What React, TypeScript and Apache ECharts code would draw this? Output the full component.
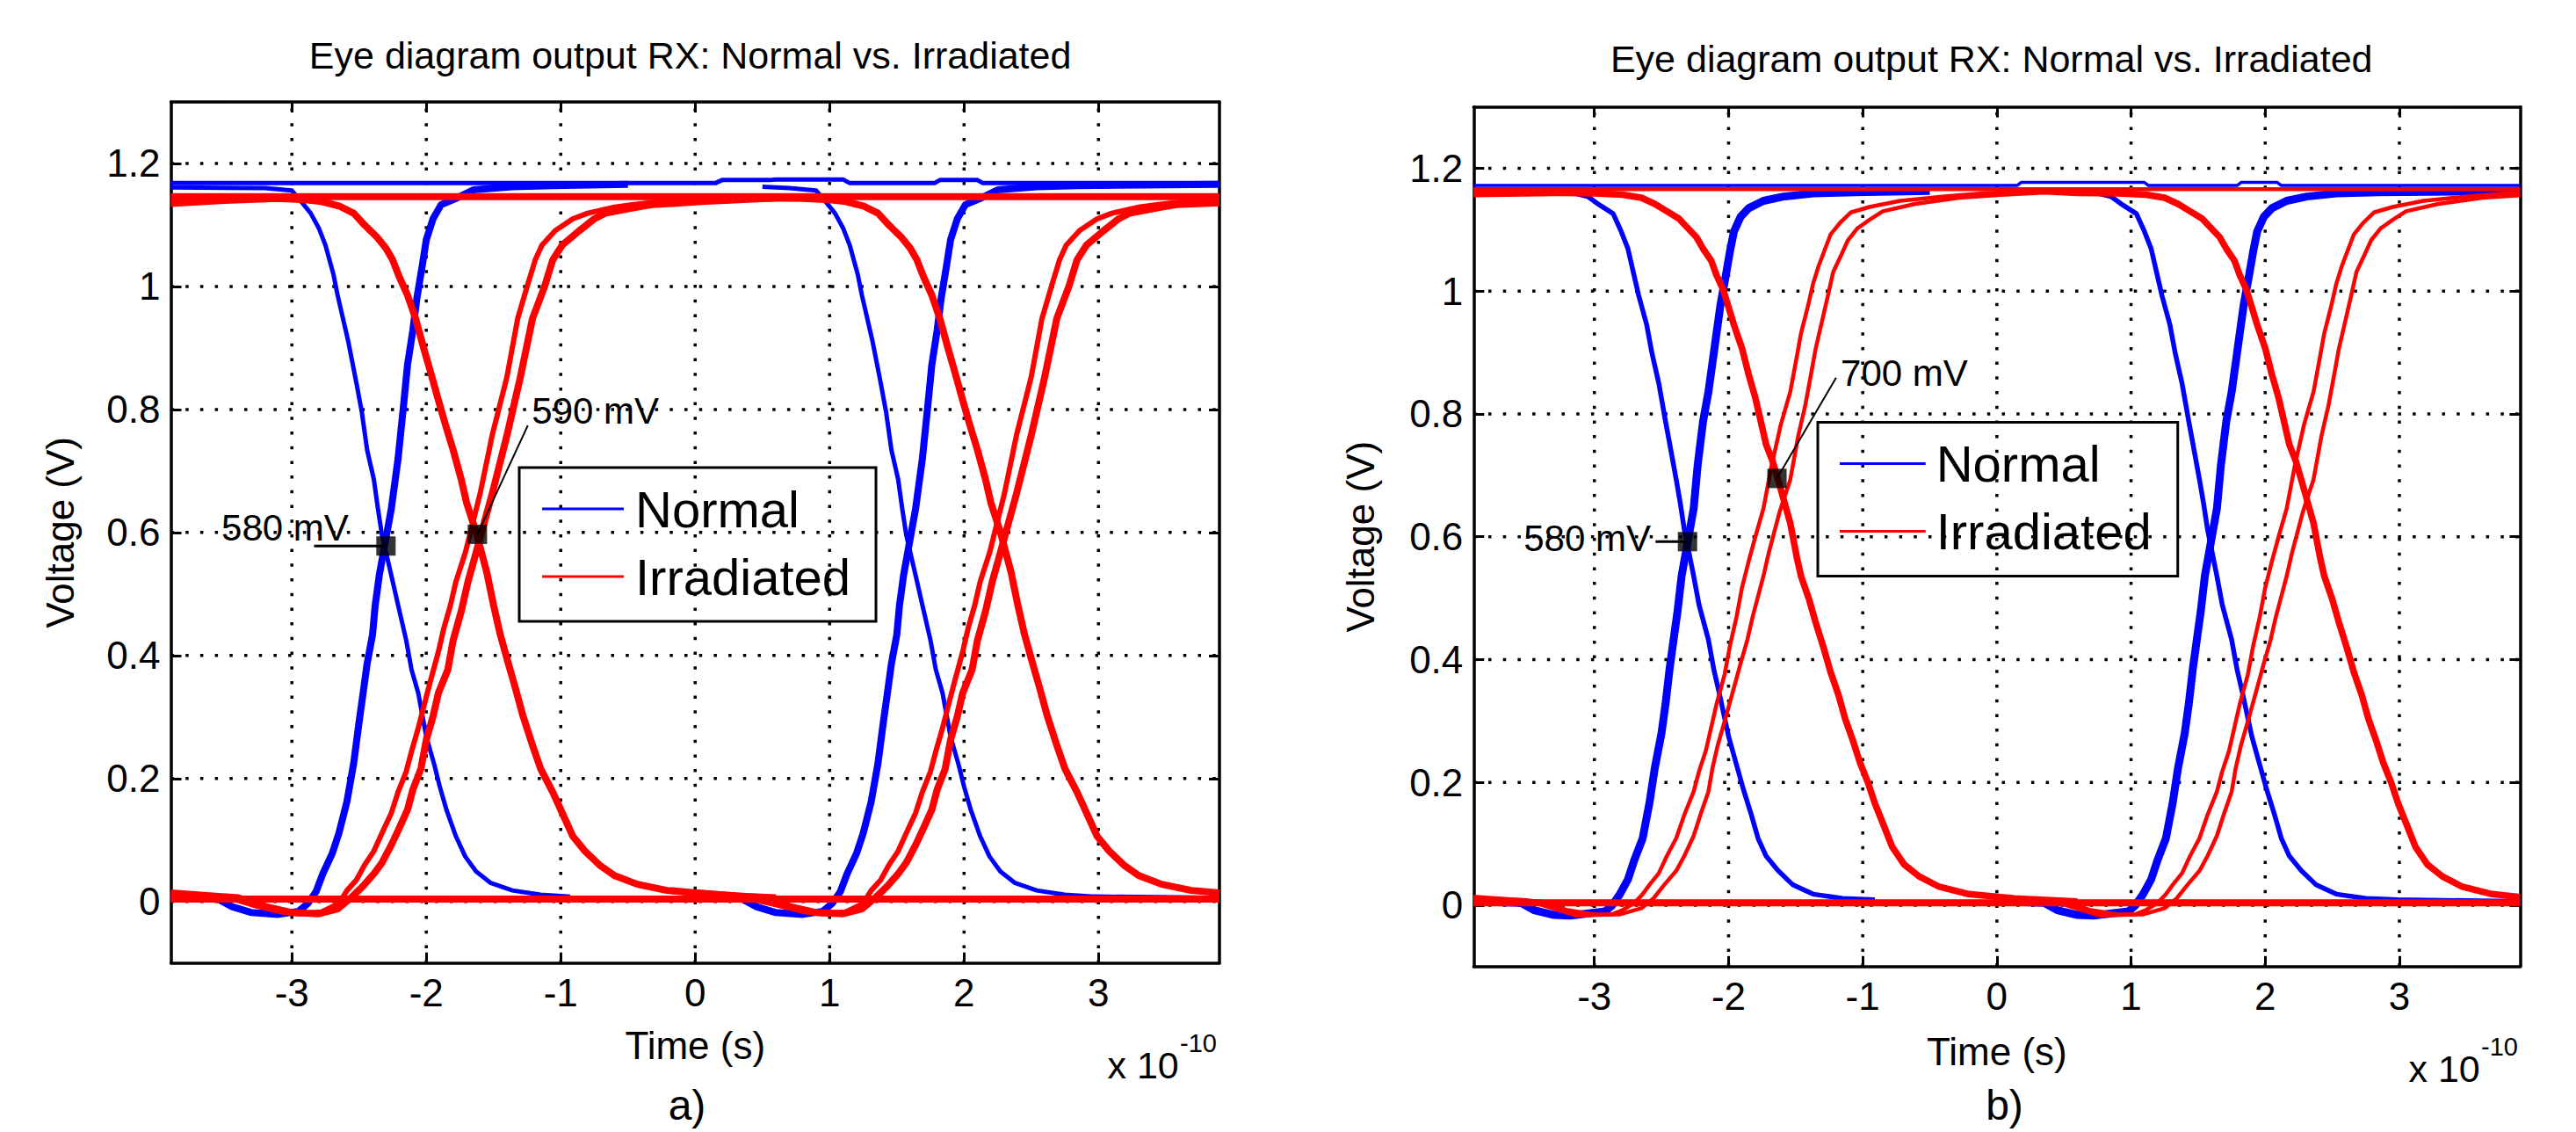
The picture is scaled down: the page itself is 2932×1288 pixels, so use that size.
import React, { useEffect, useRef } from 'react';
import * as echarts from 'echarts';

// ---------------- axes / texts ----------------
const xTicks = [-3, -2, -1, 0, 1, 2, 3];
const yTicks = [0, 0.2, 0.4, 0.6, 0.8, 1, 1.2];
const xMin = -3.9;
const xMax = 3.9;
const yMin = -0.1;
const yMax = 1.3;
const titleText = 'Eye diagram output RX: Normal vs. Irradiated';
const xName = 'Time (s)';
const yName = 'Voltage (V)';
const legendNames = ['Normal', 'Irradiated'];
const scaleMain = 'x 10';
const scaleSup = '-10';

// ---------------- panel a : Normal (blue) ----------------
const aNormalHigh = [[-3.9, 1.168], [0.15, 1.168], [0.2, 1.173], [0.55, 1.173], [0.6, 1.174], [1.1, 1.174], [1.15, 1.168], [1.78, 1.168], [1.82, 1.173], [2.1, 1.173], [2.14, 1.168], [3.9, 1.168]];
const aNormalLow = [[-3.9, 0.006], [3.9, 0.006]];
const aNormalFall1 = [[-3.9, 1.161], [-3.2, 1.160], [-3.0, 1.156], [-2.93, 1.138], [-2.86, 1.119], [-2.80, 1.095], [-2.75, 1.067], [-2.69, 1.019], [-2.66, 0.986], [-2.58, 0.910], [-2.52, 0.843], [-2.48, 0.796], [-2.44, 0.734], [-2.39, 0.686], [-2.36, 0.639], [-2.33, 0.596], [-2.26, 0.530], [-2.21, 0.482], [-2.15, 0.425], [-2.11, 0.377], [-2.06, 0.339], [-2.00, 0.268], [-1.94, 0.222], [-1.90, 0.187], [-1.85, 0.149], [-1.78, 0.106], [-1.71, 0.073], [-1.63, 0.049], [-1.52, 0.030], [-1.36, 0.018], [-1.15, 0.011], [-0.93, 0.008]];
const aNormalRise1 = [[-3.9, 0.006], [-3.55, 0.004], [-3.45, -0.008], [-3.3, -0.018], [-3.1, -0.021], [-2.95, -0.016], [-2.88, -0.003], [-2.82, 0.016], [-2.77, 0.045], [-2.70, 0.078], [-2.65, 0.111], [-2.59, 0.163], [-2.54, 0.225], [-2.50, 0.292], [-2.47, 0.339], [-2.44, 0.387], [-2.40, 0.434], [-2.38, 0.482], [-2.35, 0.530], [-2.26, 0.639], [-2.21, 0.720], [-2.17, 0.805], [-2.14, 0.872], [-2.10, 0.929], [-2.07, 0.981], [-2.03, 1.034], [-2.00, 1.076], [-1.95, 1.110], [-1.89, 1.133], [-1.78, 1.143], [-1.65, 1.157], [-1.36, 1.162], [-1.06, 1.164], [-0.5, 1.166]];
const aNormalFall2 = [[0.5, 1.162], [0.7, 1.160], [0.9, 1.156], [0.97, 1.138], [1.04, 1.119], [1.10, 1.095], [1.15, 1.067], [1.21, 1.019], [1.24, 0.986], [1.32, 0.910], [1.38, 0.843], [1.42, 0.796], [1.46, 0.734], [1.51, 0.686], [1.54, 0.639], [1.57, 0.596], [1.64, 0.530], [1.69, 0.482], [1.75, 0.425], [1.79, 0.377], [1.84, 0.339], [1.90, 0.268], [1.96, 0.222], [2.00, 0.187], [2.05, 0.149], [2.12, 0.106], [2.19, 0.073], [2.27, 0.049], [2.38, 0.030], [2.54, 0.018], [2.75, 0.011], [2.97, 0.008], [3.9, 0.006]];
const aNormalRise2 = [[0, 0.006], [0.35, 0.004], [0.45, -0.008], [0.6, -0.018], [0.8, -0.021], [0.95, -0.016], [1.02, -0.003], [1.08, 0.016], [1.13, 0.045], [1.20, 0.078], [1.25, 0.111], [1.31, 0.163], [1.36, 0.225], [1.40, 0.292], [1.43, 0.339], [1.46, 0.387], [1.50, 0.434], [1.52, 0.482], [1.55, 0.530], [1.64, 0.639], [1.69, 0.720], [1.73, 0.805], [1.76, 0.872], [1.80, 0.929], [1.83, 0.981], [1.87, 1.034], [1.90, 1.076], [1.95, 1.110], [2.01, 1.133], [2.12, 1.143], [2.25, 1.157], [2.54, 1.162], [2.84, 1.164], [3.9, 1.166]];

// ---------------- panel a : Irradiated (red) ----------------
const aIrrHigh = [[-3.9, 1.146], [3.9, 1.146]];
const aIrrLow = [[-3.9, 0.004], [3.9, 0.004]];
const aIrrFall1 = [[-3.9, 1.135], [-3.5, 1.140], [-3.1, 1.143], [-2.9, 1.141], [-2.78, 1.138], [-2.65, 1.131], [-2.54, 1.119], [-2.46, 1.100], [-2.37, 1.081], [-2.30, 1.062], [-2.25, 1.043], [-2.20, 1.015], [-2.14, 0.986], [-2.08, 0.948], [-2.02, 0.900], [-1.97, 0.862], [-1.91, 0.815], [-1.86, 0.777], [-1.80, 0.734], [-1.74, 0.686], [-1.70, 0.648], [-1.63, 0.601], [-1.55, 0.535], [-1.50, 0.482], [-1.45, 0.434], [-1.39, 0.387], [-1.34, 0.349], [-1.28, 0.301], [-1.21, 0.254], [-1.15, 0.216], [-1.06, 0.178], [-0.97, 0.135], [-0.91, 0.106], [-0.82, 0.082], [-0.71, 0.059], [-0.60, 0.042], [-0.43, 0.028], [-0.21, 0.018], [0.01, 0.014], [0.3, 0.009], [0.6, 0.006]];
const aIrrRise1L = [[-3.9, 0.012], [-3.5, 0.008], [-3.3, -0.005], [-3.1, -0.016], [-2.95, -0.020], [-2.78, -0.017], [-2.65, -0.003], [-2.59, 0.018], [-2.52, 0.035], [-2.46, 0.059], [-2.39, 0.082], [-2.33, 0.111], [-2.26, 0.144], [-2.21, 0.178], [-2.15, 0.211], [-2.11, 0.244], [-2.06, 0.282], [-2.02, 0.316], [-1.97, 0.358], [-1.91, 0.406], [-1.87, 0.444], [-1.82, 0.482], [-1.78, 0.520], [-1.71, 0.567], [-1.60, 0.663], [-1.51, 0.758], [-1.40, 0.853], [-1.32, 0.948], [-1.25, 1.000], [-1.19, 1.043], [-1.14, 1.067], [-1.04, 1.091], [-0.91, 1.110], [-0.80, 1.119], [-0.60, 1.129], [-0.47, 1.133], [-0.27, 1.138], [0.3, 1.144]];
const aIrrRise1R = [[-3.9, 0.014], [-3.4, 0.006], [-3.2, -0.008], [-3.0, -0.018], [-2.8, -0.020], [-2.66, -0.012], [-2.56, 0.006], [-2.47, 0.025], [-2.39, 0.045], [-2.33, 0.063], [-2.26, 0.092], [-2.20, 0.120], [-2.14, 0.149], [-2.10, 0.182], [-2.04, 0.216], [-2.00, 0.263], [-1.95, 0.301], [-1.91, 0.339], [-1.84, 0.377], [-1.80, 0.425], [-1.74, 0.472], [-1.69, 0.520], [-1.63, 0.567], [-1.51, 0.663], [-1.40, 0.758], [-1.30, 0.853], [-1.21, 0.948], [-1.12, 1.000], [-1.06, 1.043], [-0.99, 1.067], [-0.86, 1.091], [-0.75, 1.110], [-0.67, 1.119], [-0.43, 1.129], [-0.32, 1.133], [0.05, 1.138], [0.6, 1.144]];
const aIrrFall2 = [[0, 1.142], [0.5, 1.144], [0.8, 1.143], [1.0, 1.141], [1.12, 1.138], [1.25, 1.131], [1.36, 1.119], [1.44, 1.100], [1.53, 1.081], [1.60, 1.062], [1.65, 1.043], [1.70, 1.015], [1.76, 0.986], [1.82, 0.948], [1.88, 0.900], [1.93, 0.862], [1.99, 0.815], [2.04, 0.777], [2.10, 0.734], [2.16, 0.686], [2.20, 0.648], [2.27, 0.601], [2.35, 0.535], [2.40, 0.482], [2.45, 0.434], [2.51, 0.387], [2.56, 0.349], [2.62, 0.301], [2.69, 0.254], [2.75, 0.216], [2.84, 0.178], [2.93, 0.135], [2.99, 0.106], [3.08, 0.082], [3.19, 0.059], [3.30, 0.042], [3.47, 0.028], [3.69, 0.018], [3.9, 0.014]];
const aIrrRise2L = [[0, 0.014], [0.3, 0.010], [0.6, -0.005], [0.8, -0.016], [0.95, -0.020], [1.12, -0.017], [1.25, -0.003], [1.31, 0.018], [1.38, 0.035], [1.44, 0.059], [1.51, 0.082], [1.57, 0.111], [1.64, 0.144], [1.69, 0.178], [1.75, 0.211], [1.79, 0.244], [1.84, 0.282], [1.88, 0.316], [1.93, 0.358], [1.99, 0.406], [2.03, 0.444], [2.08, 0.482], [2.12, 0.520], [2.19, 0.567], [2.30, 0.663], [2.39, 0.758], [2.50, 0.853], [2.58, 0.948], [2.65, 1.000], [2.71, 1.043], [2.76, 1.067], [2.86, 1.091], [2.99, 1.110], [3.10, 1.119], [3.30, 1.129], [3.43, 1.133], [3.63, 1.138], [3.9, 1.140]];
const aIrrRise2R = [[0, 0.014], [0.5, 0.006], [0.7, -0.008], [0.9, -0.018], [1.1, -0.020], [1.24, -0.012], [1.34, 0.006], [1.43, 0.025], [1.51, 0.045], [1.57, 0.063], [1.64, 0.092], [1.70, 0.120], [1.76, 0.149], [1.80, 0.182], [1.86, 0.216], [1.90, 0.263], [1.95, 0.301], [1.99, 0.339], [2.06, 0.377], [2.10, 0.425], [2.16, 0.472], [2.21, 0.520], [2.27, 0.567], [2.39, 0.663], [2.50, 0.758], [2.60, 0.853], [2.69, 0.948], [2.78, 1.000], [2.84, 1.043], [2.91, 1.067], [3.04, 1.091], [3.15, 1.110], [3.23, 1.119], [3.47, 1.129], [3.58, 1.133], [3.9, 1.136]];

// ---------------- panel a : annotations ----------------
const aMarkers = [[-2.30, 0.578], [-1.62, 0.597]];
const aMarkerLabels = ['580 mV', '590 mV'];
const aLeaders = [[[-2.835, 0.578], [-2.30, 0.578]], [[-1.62, 0.597], [-1.245, 0.774]]];

// ---------------- panel b : Normal (blue) ----------------
const bNormalHigh = [[-3.9, 1.172], [0.15, 1.172], [0.18, 1.177], [0.53, 1.177], [0.59, 1.177], [1.1, 1.177], [1.13, 1.172], [1.79, 1.172], [1.82, 1.177], [2.09, 1.177], [2.12, 1.172], [3.9, 1.172]];
const bNormalLow = [[-3.9, 0.006], [3.9, 0.006]];
const bNormalFall1 = [[-3.9, 1.165], [-3.3, 1.163], [-3.18, 1.161], [-3.05, 1.154], [-2.96, 1.140], [-2.86, 1.126], [-2.80, 1.097], [-2.75, 1.069], [-2.71, 1.031], [-2.67, 0.993], [-2.61, 0.945], [-2.57, 0.898], [-2.52, 0.850], [-2.47, 0.788], [-2.43, 0.741], [-2.39, 0.693], [-2.36, 0.655], [-2.33, 0.612], [-2.26, 0.536], [-2.22, 0.489], [-2.15, 0.432], [-2.11, 0.384], [-2.07, 0.346], [-2.00, 0.275], [-1.94, 0.228], [-1.89, 0.189], [-1.83, 0.147], [-1.78, 0.109], [-1.72, 0.080], [-1.63, 0.056], [-1.52, 0.033], [-1.37, 0.018], [-1.15, 0.011], [-0.91, 0.009]];
const bNormalRise1 = [[-3.9, 0.006], [-3.55, 0.004], [-3.45, -0.008], [-3.3, -0.016], [-3.18, -0.017], [-2.92, -0.010], [-2.87, -0.001], [-2.81, 0.018], [-2.75, 0.042], [-2.70, 0.075], [-2.64, 0.109], [-2.59, 0.166], [-2.55, 0.223], [-2.50, 0.280], [-2.47, 0.327], [-2.44, 0.384], [-2.41, 0.432], [-2.38, 0.479], [-2.35, 0.536], [-2.26, 0.646], [-2.23, 0.717], [-2.19, 0.788], [-2.15, 0.836], [-2.12, 0.883], [-2.09, 0.931], [-2.06, 0.978], [-2.02, 1.026], [-1.99, 1.064], [-1.96, 1.097], [-1.91, 1.121], [-1.85, 1.135], [-1.74, 1.147], [-1.59, 1.154], [-1.37, 1.159], [-1.06, 1.161], [-0.5, 1.163]];
const bNormalFall2 = [[0.5, 1.165], [0.6, 1.163], [0.72, 1.161], [0.85, 1.154], [0.94, 1.140], [1.04, 1.126], [1.10, 1.097], [1.15, 1.069], [1.19, 1.031], [1.23, 0.993], [1.29, 0.945], [1.33, 0.898], [1.38, 0.850], [1.43, 0.788], [1.47, 0.741], [1.51, 0.693], [1.54, 0.655], [1.57, 0.612], [1.64, 0.536], [1.68, 0.489], [1.75, 0.432], [1.79, 0.384], [1.83, 0.346], [1.90, 0.275], [1.96, 0.228], [2.01, 0.189], [2.07, 0.147], [2.12, 0.109], [2.18, 0.080], [2.27, 0.056], [2.38, 0.033], [2.53, 0.018], [2.75, 0.011], [2.99, 0.009], [3.9, 0.006]];
const bNormalRise2 = [[0, 0.006], [0.35, 0.004], [0.45, -0.008], [0.6, -0.016], [0.72, -0.017], [0.98, -0.010], [1.03, -0.001], [1.09, 0.018], [1.15, 0.042], [1.20, 0.075], [1.26, 0.109], [1.31, 0.166], [1.35, 0.223], [1.40, 0.280], [1.43, 0.327], [1.46, 0.384], [1.49, 0.432], [1.52, 0.479], [1.55, 0.536], [1.64, 0.646], [1.67, 0.717], [1.71, 0.788], [1.75, 0.836], [1.78, 0.883], [1.81, 0.931], [1.84, 0.978], [1.88, 1.026], [1.91, 1.064], [1.94, 1.097], [1.99, 1.121], [2.05, 1.135], [2.16, 1.147], [2.31, 1.154], [2.53, 1.159], [2.84, 1.161], [3.9, 1.163]];

// ---------------- panel b : Irradiated (red) ----------------
const bIrrHigh = [[-3.9, 1.166], [3.9, 1.166]];
const bIrrLow = [[-3.9, 0.004], [3.9, 0.004]];
const bIrrFall1 = [[-3.9, 1.158], [-3.3, 1.160], [-3.0, 1.159], [-2.79, 1.157], [-2.65, 1.152], [-2.55, 1.142], [-2.46, 1.130], [-2.37, 1.118], [-2.31, 1.104], [-2.24, 1.088], [-2.19, 1.069], [-2.13, 1.050], [-2.09, 1.026], [-2.04, 1.002], [-2.00, 0.974], [-1.96, 0.945], [-1.90, 0.907], [-1.85, 0.864], [-1.80, 0.826], [-1.76, 0.788], [-1.72, 0.750], [-1.67, 0.722], [-1.60, 0.669], [-1.54, 0.622], [-1.49, 0.565], [-1.46, 0.536], [-1.40, 0.498], [-1.35, 0.460], [-1.29, 0.418], [-1.24, 0.380], [-1.18, 0.342], [-1.13, 0.303], [-1.07, 0.266], [-1.02, 0.232], [-0.96, 0.199], [-0.91, 0.166], [-0.84, 0.128], [-0.78, 0.095], [-0.69, 0.066], [-0.58, 0.047], [-0.43, 0.030], [-0.21, 0.018], [0.13, 0.011], [0.6, 0.006]];
const bIrrRise1L = [[-3.9, 0.012], [-3.5, 0.008], [-3.3, -0.006], [-3.13, -0.017], [-2.87, -0.015], [-2.79, -0.008], [-2.70, 0.004], [-2.64, 0.018], [-2.59, 0.033], [-2.52, 0.052], [-2.46, 0.080], [-2.39, 0.109], [-2.33, 0.147], [-2.26, 0.185], [-2.22, 0.218], [-2.17, 0.251], [-2.13, 0.289], [-2.09, 0.327], [-2.03, 0.375], [-1.99, 0.422], [-1.94, 0.470], [-1.90, 0.517], [-1.85, 0.560], [-1.80, 0.600], [-1.74, 0.646], [-1.68, 0.715], [-1.61, 0.783], [-1.54, 0.836], [-1.50, 0.883], [-1.46, 0.931], [-1.41, 0.974], [-1.37, 1.012], [-1.33, 1.040], [-1.28, 1.069], [-1.24, 1.092], [-1.17, 1.111], [-1.09, 1.128], [-0.95, 1.137], [-0.72, 1.147], [-0.39, 1.154], [-0.13, 1.159], [0.3, 1.163]];
const bIrrRise1R = [[-3.9, 0.014], [-3.4, 0.006], [-3.2, -0.008], [-3.0, -0.015], [-2.81, -0.015], [-2.65, -0.005], [-2.56, 0.011], [-2.48, 0.033], [-2.39, 0.056], [-2.33, 0.080], [-2.26, 0.113], [-2.21, 0.147], [-2.15, 0.185], [-2.12, 0.223], [-2.08, 0.261], [-2.03, 0.299], [-1.97, 0.346], [-1.91, 0.394], [-1.86, 0.432], [-1.82, 0.470], [-1.78, 0.503], [-1.74, 0.536], [-1.70, 0.574], [-1.62, 0.640], [-1.54, 0.693], [-1.48, 0.765], [-1.43, 0.812], [-1.39, 0.859], [-1.35, 0.907], [-1.30, 0.954], [-1.26, 0.992], [-1.22, 1.031], [-1.16, 1.059], [-1.11, 1.083], [-1.04, 1.102], [-0.95, 1.116], [-0.85, 1.130], [-0.61, 1.142], [-0.28, 1.152], [0.05, 1.157], [0.6, 1.163]];
const bIrrFall2 = [[0.3, 1.163], [0.6, 1.160], [0.9, 1.159], [1.11, 1.157], [1.25, 1.152], [1.35, 1.142], [1.44, 1.130], [1.53, 1.118], [1.59, 1.104], [1.66, 1.088], [1.71, 1.069], [1.77, 1.050], [1.81, 1.026], [1.86, 1.002], [1.90, 0.974], [1.94, 0.945], [2.00, 0.907], [2.05, 0.864], [2.10, 0.826], [2.14, 0.788], [2.18, 0.750], [2.23, 0.722], [2.30, 0.669], [2.36, 0.622], [2.41, 0.565], [2.44, 0.536], [2.50, 0.498], [2.55, 0.460], [2.61, 0.418], [2.66, 0.380], [2.72, 0.342], [2.77, 0.303], [2.83, 0.266], [2.88, 0.232], [2.94, 0.199], [2.99, 0.166], [3.06, 0.128], [3.12, 0.095], [3.21, 0.066], [3.32, 0.047], [3.47, 0.030], [3.69, 0.018], [3.9, 0.013]];
const bIrrRise2L = [[0, 0.012], [0.4, 0.008], [0.6, -0.006], [0.77, -0.017], [1.03, -0.015], [1.11, -0.008], [1.20, 0.004], [1.26, 0.018], [1.31, 0.033], [1.38, 0.052], [1.44, 0.080], [1.51, 0.109], [1.57, 0.147], [1.64, 0.185], [1.68, 0.218], [1.73, 0.251], [1.77, 0.289], [1.81, 0.327], [1.87, 0.375], [1.91, 0.422], [1.96, 0.470], [2.00, 0.517], [2.05, 0.560], [2.10, 0.600], [2.16, 0.646], [2.22, 0.715], [2.29, 0.783], [2.36, 0.836], [2.40, 0.883], [2.44, 0.931], [2.49, 0.974], [2.53, 1.012], [2.57, 1.040], [2.62, 1.069], [2.66, 1.092], [2.73, 1.111], [2.81, 1.128], [2.95, 1.137], [3.18, 1.147], [3.51, 1.154], [3.77, 1.159], [3.9, 1.160]];
const bIrrRise2R = [[0, 0.014], [0.5, 0.006], [0.7, -0.008], [0.9, -0.015], [1.09, -0.015], [1.25, -0.005], [1.34, 0.011], [1.42, 0.033], [1.51, 0.056], [1.57, 0.080], [1.64, 0.113], [1.69, 0.147], [1.75, 0.185], [1.78, 0.223], [1.82, 0.261], [1.87, 0.299], [1.93, 0.346], [1.99, 0.394], [2.04, 0.432], [2.08, 0.470], [2.12, 0.503], [2.16, 0.536], [2.20, 0.574], [2.28, 0.640], [2.36, 0.693], [2.42, 0.765], [2.47, 0.812], [2.51, 0.859], [2.55, 0.907], [2.60, 0.954], [2.64, 0.992], [2.68, 1.031], [2.74, 1.059], [2.79, 1.083], [2.86, 1.102], [2.95, 1.116], [3.05, 1.130], [3.29, 1.142], [3.62, 1.152], [3.9, 1.156]];

// ---------------- panel b : annotations ----------------
const bMarkers = [[-2.306, 0.592], [-1.639, 0.695]];
const bMarkerLabels = ['580 mV', '700 mV'];
const bLeaders = [[[-2.544, 0.592], [-2.306, 0.592]], [[-1.639, 0.695], [-1.198, 0.859]]];

// ---------------- styles / layout ----------------
const FONT = "'Liberation Sans', Arial, Helvetica, sans-serif";
const BLUE = '#0000ff';
const RED = '#ff0000';
const CENTRAL = 0.3465; // central baseline offset (em) above alphabetic baseline

const panels = [
  {
    grid: { left: 194.5, top: 116, width: 1193.5, height: 979.7 },
    normal: [
      { data: aNormalHigh, w: 5 }, { data: aNormalLow, w: 4 },
      { data: aNormalFall1, w: 5 }, { data: aNormalRise1, w: 8 },
      { data: aNormalFall2, w: 5 }, { data: aNormalRise2, w: 8 },
    ],
    irradiated: [
      { data: aIrrHigh, w: 8 }, { data: aIrrLow, w: 8 },
      { data: aIrrFall1, w: 8 }, { data: aIrrRise1L, w: 6 }, { data: aIrrRise1R, w: 8 },
      { data: aIrrFall2, w: 8 }, { data: aIrrRise2L, w: 6 }, { data: aIrrRise2R, w: 8 },
    ],
    markers: aMarkers,
    labels: aMarkerLabels,
    leaders: aLeaders,
    leaderW: [3, 2],
    labelOffsets: [
      { dx: -42.5, dy: -6, align: 'right' },
      { dx: 62, dy: -126, align: 'left' },
    ],
    legend: { left: 591, top: 532, padding: [18, 29, 22, 26], itemWidth: 93, textPad: 8 },
    title: { x: 785.6, baseline: 78 },
    yNameGap: 104,
    xNameGap: 72,
    scale: { x: 1260.5, baseline: 1227, supX: 1343, supBaseline: 1197 },
    caption: { text: 'a)', x: 782, baseline: 1274 },
  },
  {
    grid: { left: 1677.3, top: 121.6, width: 1191.1, height: 978.2 },
    normal: [
      { data: bNormalHigh, w: 3.5 }, { data: bNormalLow, w: 4 },
      { data: bNormalFall1, w: 5.5 }, { data: bNormalRise1, w: 9 },
      { data: bNormalFall2, w: 5.5 }, { data: bNormalRise2, w: 9 },
    ],
    irradiated: [
      { data: bIrrHigh, w: 4.5 }, { data: bIrrLow, w: 8 },
      { data: bIrrFall1, w: 7.5 }, { data: bIrrRise1L, w: 4.5 }, { data: bIrrRise1R, w: 4.5 },
      { data: bIrrFall2, w: 7.5 }, { data: bIrrRise2L, w: 4.5 }, { data: bIrrRise2R, w: 4.5 },
    ],
    markers: bMarkers,
    labels: bMarkerLabels,
    leaders: bLeaders,
    leaderW: [3, 2],
    labelOffsets: [
      { dx: -41.7, dy: 10.5, align: 'right' },
      { dx: 72.5, dy: -105.6, align: 'left' },
    ],
    legend: { left: 2069, top: 480.5, padding: [18, 30, 22, 25], itemWidth: 97.7, textPad: 7 },
    title: { x: 2266.7, baseline: 82 },
    yNameGap: 106.5,
    xNameGap: 75,
    scale: { x: 2741.5, baseline: 1231, supX: 2824, supBaseline: 1201 },
    caption: { text: 'b)', x: 2281.5, baseline: 1274 },
  },
];

const CAPTION_SIZE = 48;

function middleY(baseline: number, size: number) {
  return baseline - CENTRAL * size;
}

function buildOption() {
  const grids: any[] = [];
  const xAxes: any[] = [];
  const yAxes: any[] = [];
  const series: any[] = [];
  const legends: any[] = [];

  panels.forEach((p, i) => {
    grids.push({ ...p.grid, containLabel: false, show: false });
    const tick = { show: true, inside: true, length: 12, lineStyle: { color: '#000', width: 3 }, customValues: xTicks };
    const axisLine = { show: true, onZero: false, lineStyle: { color: '#000', width: 3.5 } };
    xAxes.push({
      type: 'value', gridIndex: i, position: 'bottom', min: xMin, max: xMax,
      axisLine, axisTick: tick, splitLine: { show: false },
      axisLabel: { customValues: xTicks, fontSize: 44, fontFamily: FONT, color: '#000', margin: 12 },
      name: xName, nameLocation: 'middle', nameGap: p.xNameGap,
      nameTextStyle: { fontSize: 44, fontFamily: FONT, color: '#000' },
    });
    xAxes.push({
      type: 'value', gridIndex: i, position: 'top', min: xMin, max: xMax,
      axisLine, axisTick: tick, splitLine: { show: false }, axisLabel: { show: false },
    });
    const ytick = { ...tick, customValues: yTicks };
    yAxes.push({
      type: 'value', gridIndex: i, position: 'left', min: yMin, max: yMax,
      axisLine, axisTick: ytick, splitLine: { show: false },
      axisLabel: { customValues: yTicks, fontSize: 44, fontFamily: FONT, color: '#000', margin: 12 },
      name: yName, nameLocation: 'middle', nameGap: p.yNameGap,
      nameTextStyle: { fontSize: 44, fontFamily: FONT, color: '#000' },
    });
    yAxes.push({
      type: 'value', gridIndex: i, position: 'right', min: yMin, max: yMax,
      axisLine, axisTick: ytick, splitLine: { show: false }, axisLabel: { show: false },
    });

    const xi = i * 2;
    const yi = i * 2;
    const gridStyle = { color: '#000', width: 3.5, type: [3.5, 13.2], cap: 'butt' };
    xTicks.forEach((v) => {
      series.push({
        type: 'line', xAxisIndex: xi, yAxisIndex: yi, data: [[v, yMin], [v, yMax]],
        symbol: 'none', silent: true, z: 1, lineStyle: gridStyle, legendHoverLink: false,
      });
    });
    yTicks.forEach((v) => {
      series.push({
        type: 'line', xAxisIndex: xi, yAxisIndex: yi, data: [[xMin, v], [xMax, v]],
        symbol: 'none', silent: true, z: 1, lineStyle: gridStyle, legendHoverLink: false,
      });
    });
    p.normal.forEach((t) => {
      series.push({
        name: legendNames[0], type: 'line', xAxisIndex: xi, yAxisIndex: yi, data: t.data,
        symbol: 'none', showSymbol: false, silent: true, z: 2, color: BLUE,
        lineStyle: { color: BLUE, width: t.w, join: 'round' },
      });
    });
    p.irradiated.forEach((t) => {
      series.push({
        name: legendNames[1], type: 'line', xAxisIndex: xi, yAxisIndex: yi, data: t.data,
        symbol: 'none', showSymbol: false, silent: true, z: 3, color: RED,
        lineStyle: { color: RED, width: t.w, join: 'round' },
      });
    });
    p.leaders.forEach((l, k) => {
      series.push({
        type: 'line', xAxisIndex: xi, yAxisIndex: yi, data: l,
        symbol: 'none', silent: true, z: 5, lineStyle: { color: '#000', width: p.leaderW[k] },
      });
    });
    series.push({
      type: 'scatter', xAxisIndex: xi, yAxisIndex: yi, data: p.markers,
      symbol: 'rect', symbolSize: 22, silent: true, z: 6,
      itemStyle: { color: '#000' },
    });

    legends.push({
      data: legendNames, orient: 'vertical', left: p.legend.left, top: p.legend.top,
      padding: p.legend.padding, itemGap: 19, itemWidth: p.legend.itemWidth, itemHeight: 3,
      icon: 'rect', selectedMode: false, borderColor: '#000', borderWidth: 3,
      backgroundColor: 'transparent', itemStyle: { borderWidth: 0 },
      textStyle: { fontSize: 58, fontFamily: FONT, color: '#000', padding: [0, 0, 0, p.legend.textPad] },
    });
  });

  return {
    animation: false,
    backgroundColor: '#fff',
    grid: grids,
    xAxis: xAxes,
    yAxis: yAxes,
    legend: legends,
    series,
  };
}

function staticGraphics() {
  const g: any[] = [];
  panels.forEach((p) => {
    g.push({
      type: 'text', x: p.title.x, y: middleY(p.title.baseline, 43), z: 100,
      style: { text: titleText, fontSize: 43, fontFamily: FONT, fill: '#000', align: 'center', verticalAlign: 'middle' },
    });
    g.push({
      type: 'text', x: p.scale.x, y: middleY(p.scale.baseline, 43), z: 100,
      style: { text: scaleMain, fontSize: 43, fontFamily: FONT, fill: '#000', align: 'left', verticalAlign: 'middle' },
    });
    g.push({
      type: 'text', x: p.scale.supX, y: middleY(p.scale.supBaseline, 29), z: 100,
      style: { text: scaleSup, fontSize: 29, fontFamily: FONT, fill: '#000', align: 'left', verticalAlign: 'middle' },
    });
    g.push({
      type: 'text', x: p.caption.x, y: middleY(p.caption.baseline, CAPTION_SIZE), z: 100,
      style: { text: p.caption.text, fontSize: CAPTION_SIZE, fontFamily: FONT, fill: '#000', align: 'center', verticalAlign: 'middle' },
    });
  });
  return g;
}

export default function App() {
  const ref = useRef<HTMLDivElement>(null);
  useEffect(() => {
    document.body.style.margin = '0';
    const chart = echarts.init(ref.current as HTMLDivElement, null, { renderer: 'svg' });
    chart.setOption(buildOption() as any);
    const g = staticGraphics();
    panels.forEach((p, i) => {
      p.markers.forEach((m, k) => {
        const px = chart.convertToPixel({ xAxisIndex: i * 2, yAxisIndex: i * 2 } as any, m) as number[];
        const off = p.labelOffsets[k];
        g.push({
          type: 'text', x: px[0] + off.dx, y: middleY(px[1] + off.dy, 42), z: 100,
          style: { text: p.labels[k], fontSize: 42, fontFamily: FONT, fill: '#000', align: off.align, verticalAlign: 'middle' },
        });
      });
    });
    chart.setOption({ graphic: g } as any);
    return () => chart.dispose();
  }, []);
  return <div ref={ref} style={{ width: 2932, height: 1288, position: 'absolute', left: 0, top: 0 }} />;
}
